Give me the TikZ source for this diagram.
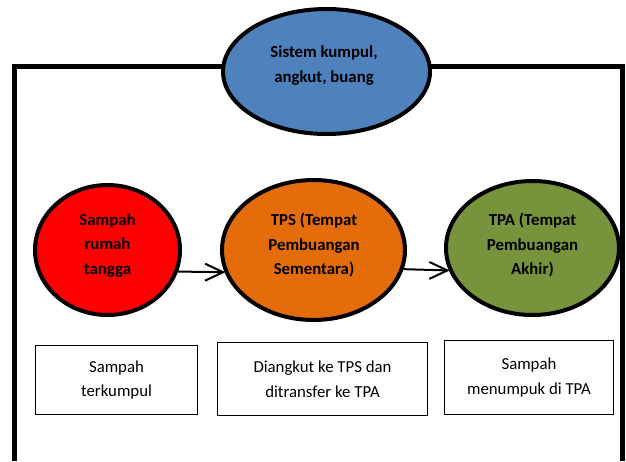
\documentclass[tikz,border=0pt]{standalone}
\usepackage{fontspec}
\setmainfont{Carlito}
\usetikzlibrary{arrows.meta,shapes.geometric}
\definecolor{topblue}{HTML}{4F81BD}
\definecolor{tpsorange}{HTML}{E46C0A}
\definecolor{tpagreen}{HTML}{77933C}
\definecolor{hhred}{HTML}{FF0000}
\tikzset{
  frameline/.style={line width=4.5pt, line cap=butt},
  blob/.style={ellipse, draw=black, line width=4pt, inner sep=0pt},
  blbl/.style={align=center, inner sep=0pt, font=\bfseries\fontsize{16.8}{24.5}\selectfont},
  arr/.style={line width=2pt},
  barb/.style={line width=2pt, line join=miter},
  infobox/.style={rectangle, draw=black, line width=1.2pt, fill=white, align=center, inner sep=0pt, font=\fontsize{16.8}{24.5}\selectfont}
}
\begin{document}
\begin{tikzpicture}[x=1pt,y=-1pt]
\useasboundingbox (0,0) rectangle (626,461);
\fill[white] (0,0) rectangle (626,461);
% frame
\coordinate (fbl) at (14.5,461);
\coordinate (ftl) at (14.5,66.5);
\coordinate (ftr) at (622.5,66.5);
\coordinate (fbr) at (622.5,461);
\draw[frameline] (fbl) -- (ftl) -- (ftr) -- (fbr);
% top ellipse
\node[blob, fill=topblue, minimum width=207pt, minimum height=125pt] (sys) at (326.5,71.5) {};
\node[blbl] (systxt) at (324,65.5) {Sistem kumpul,\\angkut, buang};
% process ellipses
\node[blob, fill=hhred, minimum width=145pt, minimum height=130pt] (red) at (107.5,250) {};
\node[blbl] (redtxt) at (107.5,245.5) {Sampah\\rumah\\tangga};
\node[blob, fill=tpsorange, minimum width=183pt, minimum height=140pt] (tps) at (313.5,250) {};
\node[blbl] (tpstxt) at (314,245.5) {TPS (Tempat\\Pembuangan\\Sementara)};
\node[blob, fill=tpagreen, minimum width=173pt, minimum height=134pt] (tpa) at (532.5,248) {};
\node[blbl] (tpatxt) at (532.5,245.5) {TPA (Tempat\\Pembuangan\\Akhir)};
% arrows
\coordinate (h1) at ([xshift=-1.5pt]tps.-166.1);
\coordinate (h2) at ([xshift=-1.5pt]tpa.-165.3);
\draw[arr] (red.-17.4) -- (h1);
\draw[barb] ([xshift=-18pt,yshift=8.5pt]h1) -- (h1) -- ([xshift=-18pt,yshift=-8.5pt]h1);
\draw[arr] (tps.-12.6) -- (h2);
\draw[barb] ([xshift=-18pt,yshift=8.5pt]h2) -- (h2) -- ([xshift=-18pt,yshift=-8.5pt]h2);
% boxes
\node[infobox, minimum width=162pt, minimum height=69pt] (b1) at (116.5,380) {Sampah\\terkumpul};
\node[infobox, minimum width=210pt, minimum height=73pt] (b2) at (322.5,379) {Diangkut ke TPS dan\\ditransfer ke TPA};
\node[infobox, minimum width=169pt, minimum height=74pt] (b3) at (529,377.5) {Sampah\\menumpuk di TPA};
\end{tikzpicture}
\end{document}
